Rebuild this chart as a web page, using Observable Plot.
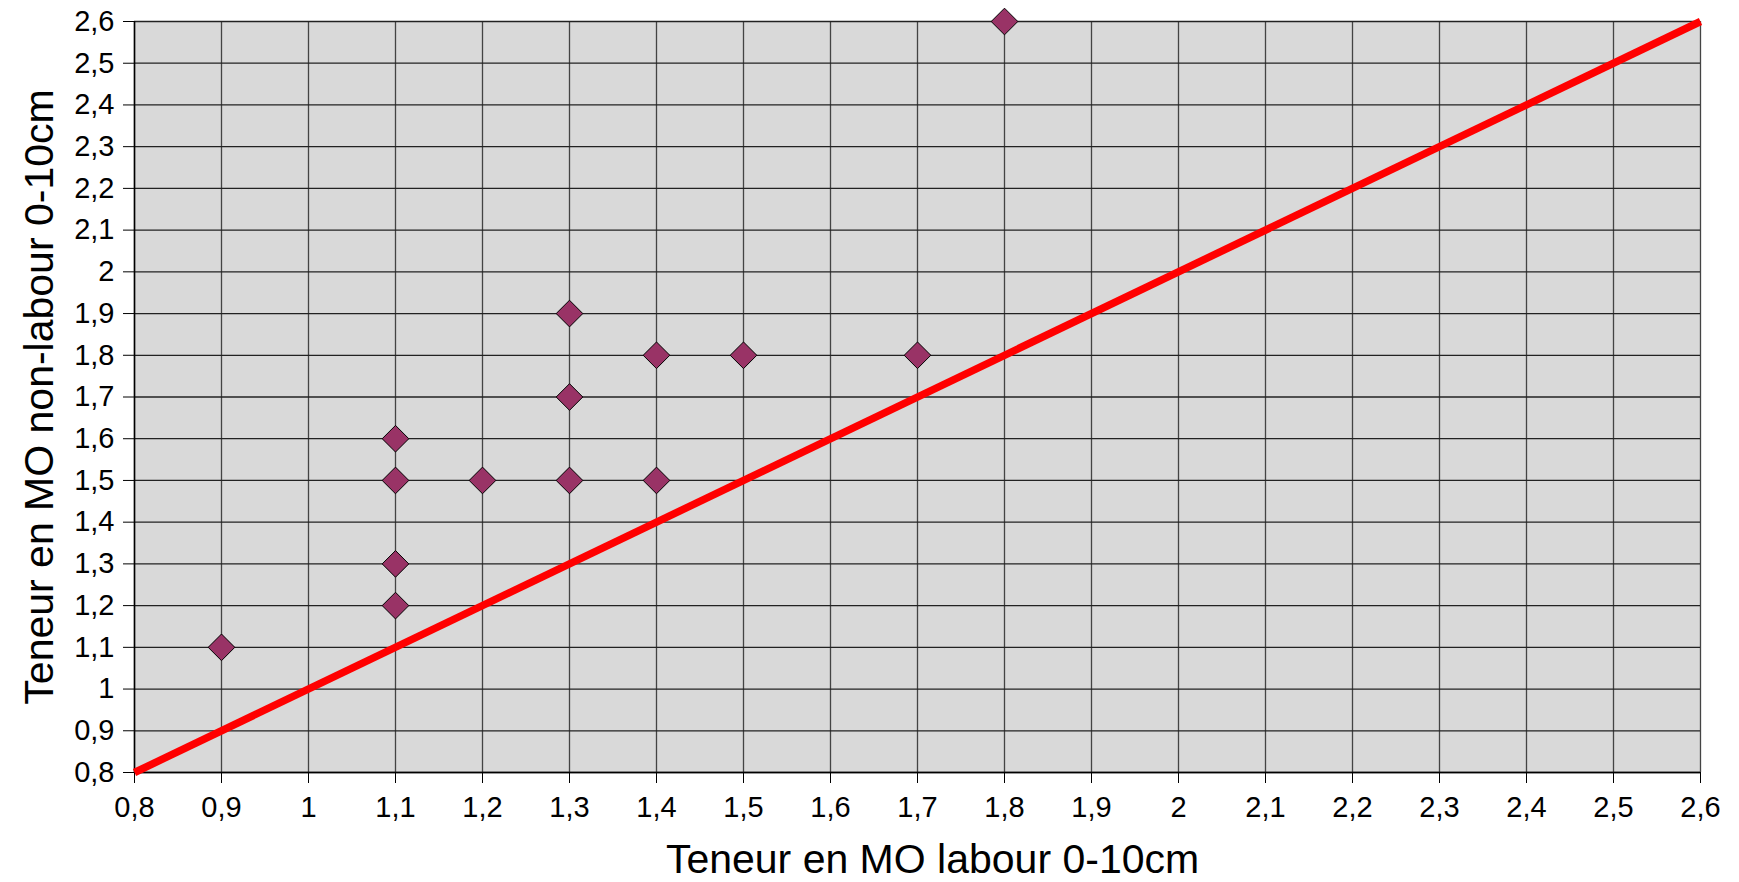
<!DOCTYPE html>
<html>
<head>
<meta charset="utf-8">
<script src="https://cdn.jsdelivr.net/npm/d3@7"></script>
<script src="https://cdn.jsdelivr.net/npm/@observablehq/plot@0.6"></script>
<style>
  html, body { margin: 0; padding: 0; background: #fff; }
  #chart svg { display: block; }
</style>
</head>
<body>
<div id="chart"></div>
<script>
// Data
const labour    = [0.9, 1.1, 1.1, 1.1, 1.1, 1.2, 1.3, 1.3, 1.3, 1.4, 1.4, 1.5, 1.7, 1.8];
const nonLabour = [1.1, 1.6, 1.5, 1.3, 1.2, 1.5, 1.9, 1.7, 1.5, 1.8, 1.5, 1.8, 1.8, 2.6];
const tickValues = [0.8, 0.9, 1, 1.1, 1.2, 1.3, 1.4, 1.5, 1.6, 1.7, 1.8, 1.9, 2, 2.1, 2.2, 2.3, 2.4, 2.5, 2.6];
const lineX = [0.8, 2.6];
const lineY = [0.8, 2.6];
const xTitle = "Teneur en MO labour 0-10cm";
const yTitle = "Teneur en MO non-labour 0-10cm";

const points = labour.map((x, i) => ({x, y: nonLabour[i]}));
const linePts = lineX.map((x, i) => ({x, y: lineY[i]}));
const fmt = d => String(d).replace(".", ",");

const chart = Plot.plot({
  width: 1739,
  height: 882,
  marginLeft: 134,
  marginRight: 39,
  marginTop: 21,
  marginBottom: 110,
  style: {fontFamily: "'Liberation Sans', Arial, sans-serif", background: "#fff", color: "#000"},
  x: {domain: [0.8, 2.6]},
  y: {domain: [0.8, 2.6]},
  marks: [
    Plot.frame({fill: "#d9d9d9", stroke: "#777"}),
    Plot.gridX(tickValues, {stroke: "#444", strokeOpacity: 1, strokeWidth: 1.3}),
    Plot.gridY(tickValues, {stroke: "#222", strokeOpacity: 1, strokeWidth: 1.3}),
    Plot.ruleX([0.8], {stroke: "#000", strokeWidth: 1.5}),
    Plot.ruleY([0.8], {stroke: "#000", strokeWidth: 1.5}),
    Plot.axisX({ticks: tickValues, tickFormat: fmt, tickSize: 11, tickPadding: 13, fontSize: 29, label: null, stroke: "#000"}),
    Plot.axisY({ticks: tickValues, tickFormat: fmt, tickSize: 11, tickPadding: 9, fontSize: 29, label: null, stroke: "#000"}),
    Plot.line(linePts, {x: "x", y: "y", stroke: "#ff0000", strokeWidth: 7.5, strokeLinecap: "butt"}),
    Plot.dot(points, {x: "x", y: "y", symbol: "diamond2", r: 12, fill: "#993366", stroke: "#000", strokeWidth: 1}),
    Plot.text([xTitle], {text: d => d, frameAnchor: "bottom", dx: 15, dy: 87, fontSize: 41, lineAnchor: "middle", fill: "#000"}),
    Plot.text([yTitle], {text: d => d, frameAnchor: "left", dx: -95, rotate: -90, fontSize: 41, lineAnchor: "middle", textAnchor: "middle", fill: "#000"})
  ]
});
document.getElementById("chart").appendChild(chart);
</script>
</body>
</html>
